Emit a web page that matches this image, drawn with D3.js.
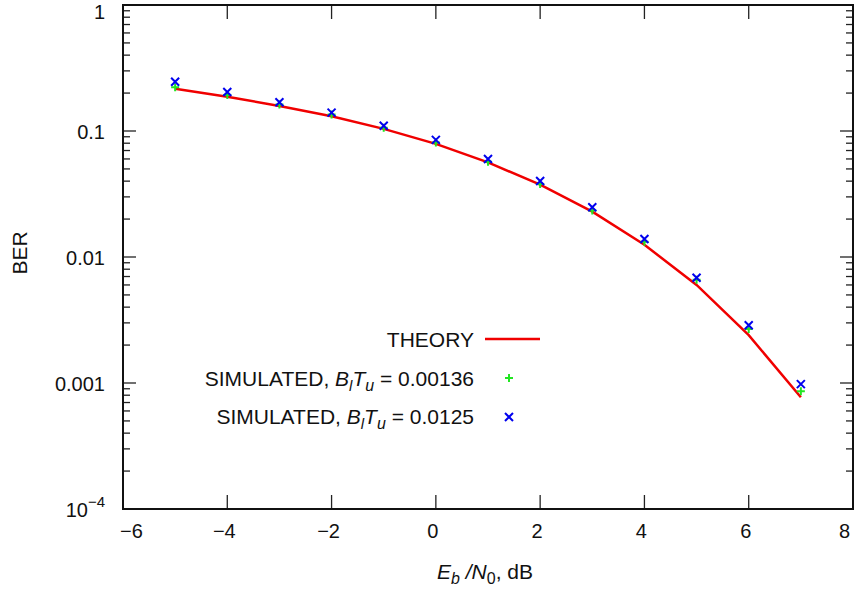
<!DOCTYPE html>
<html>
<head>
<meta charset="utf-8">
<script src="https://cdn.jsdelivr.net/npm/d3@7"></script>
<style>
  body { margin: 0; background: #fff; }
  svg text { font-family: "Liberation Sans", Arial, Helvetica, sans-serif; fill: #111; }
</style>
</head>
<body>
<div id="chart"></div>
<script>
// Eb/N0 values (dB)
var ebno = [-5, -4, -3, -2, -1, 0, 1, 2, 3, 4, 5, 6, 7];
// theory curve
var theory = [0.216, 0.187, 0.158, 0.131, 0.104, 0.0790, 0.0563, 0.0375, 0.0229, 0.0125, 0.0060, 0.00240, 0.00077];
// simulated, BlTu = 0.00136
var sim1 = [0.222, 0.193, 0.162, 0.135, 0.106, 0.081, 0.057, 0.038, 0.0234, 0.0132, 0.0066, 0.00268, 0.00086];
// simulated, BlTu = 0.0125
var sim2 = [0.246, 0.204, 0.169, 0.140, 0.110, 0.085, 0.060, 0.0401, 0.0248, 0.0139, 0.00685, 0.00287, 0.00098];

var xTicks = [-6, -4, -2, 0, 2, 4, 6, 8];
var yTicks = [1e-4, 1e-3, 1e-2, 0.1, 1];
var yTickLabels = ["10^-4", "0.001", "0.01", "0.1", "1"];

var W = 854, H = 590;
var margin = { top: 5, right: 1, bottom: 81, left: 123 };

var svg = d3.select("#chart")
    .append("svg")
    .attr("width", W)
    .attr("height", H);

var x = d3.scaleLinear()
    .domain([-6, 8])
    .range([margin.left, W - margin.right]);
var y = d3.scaleLog()
    .domain([1e-4, 1])
    .range([H - margin.bottom, margin.top]);

var x0 = x.range()[0], x1 = x.range()[1];
var yb = y.range()[0], yt = y.range()[1];

// minor y ticks
var minor = [];
[1e-4, 1e-3, 1e-2, 0.1].forEach(function (d) {
    for (var k = 2; k <= 9; k++) minor.push(d * k);
});

var ticks = svg.append("g").attr("stroke", "#222").attr("stroke-width", 1.3);
minor.forEach(function (v) {
    ticks.append("line").attr("x1", x0).attr("x2", x0 + 7).attr("y1", y(v)).attr("y2", y(v));
    ticks.append("line").attr("x1", x1).attr("x2", x1 - 7).attr("y1", y(v)).attr("y2", y(v));
});
yTicks.forEach(function (v) {
    ticks.append("line").attr("x1", x0).attr("x2", x0 + 13).attr("y1", y(v)).attr("y2", y(v));
    ticks.append("line").attr("x1", x1).attr("x2", x1 - 13).attr("y1", y(v)).attr("y2", y(v));
});
xTicks.forEach(function (v) {
    ticks.append("line").attr("x1", x(v)).attr("x2", x(v)).attr("y1", yb).attr("y2", yb - 14);
    ticks.append("line").attr("x1", x(v)).attr("x2", x(v)).attr("y1", yt).attr("y2", yt + 14);
});

// frame
svg.append("rect")
    .attr("x", x0).attr("y", yt)
    .attr("width", x1 - x0).attr("height", yb - yt)
    .attr("fill", "none")
    .attr("stroke", "#111")
    .attr("stroke-width", 2);

// x tick labels (first and last kept inside the page)
svg.append("g").selectAll("text")
    .data(xTicks)
    .enter().append("text")
    .attr("x", function (d, i) {
        if (i === 0) return x(d) - 3;
        if (i === xTicks.length - 1) return 850;
        return x(d) - 3;
    })
    .attr("y", 538)
    .attr("text-anchor", function (d, i) {
        if (i === 0) return "start";
        if (i === xTicks.length - 1) return "end";
        return "middle";
    })
    .attr("font-size", 20)
    .text(function (d) { return d < 0 ? "\u2212" + Math.abs(d) : d; });

// y tick labels
var yl = svg.append("g");
yTicks.forEach(function (v, i) {
    var lab = yTickLabels[i];
    var ty = Math.max(y(v) + 7.5, 19);
    var t = yl.append("text")
        .attr("x", 105)
        .attr("y", ty)
        .attr("text-anchor", "end")
        .attr("font-size", 20);
    if (lab.indexOf("^") >= 0) {
        var parts = lab.split("^");
        t.append("tspan").text(parts[0]);
        t.append("tspan").attr("dy", -10).attr("font-size", 15).text(parts[1].replace("-", "\u2212"));
    } else {
        t.text(lab);
    }
});

// axis titles
svg.append("text")
    .attr("transform", "translate(27,253) rotate(-90)")
    .attr("text-anchor", "middle")
    .attr("font-size", 21)
    .text("BER");

var xt = svg.append("text")
    .attr("x", 485)
    .attr("y", 579)
    .attr("text-anchor", "middle")
    .attr("font-size", 21);
xt.append("tspan").attr("font-style", "italic").text("E");
xt.append("tspan").attr("font-style", "italic").attr("font-size", 16).attr("dy", 5).text("b");
xt.append("tspan").attr("font-style", "italic").attr("dy", -5).text(" /N");
xt.append("tspan").attr("font-size", 16).attr("dy", 5).text("0");
xt.append("tspan").attr("dy", -5).text(", dB");

// theory line
var line = d3.line()
    .x(function (d, i) { return x(ebno[i]); })
    .y(function (d) { return y(d); });

svg.append("path")
    .datum(theory)
    .attr("d", line)
    .attr("fill", "none")
    .attr("stroke", "#f00000")
    .attr("stroke-width", 2.5);

// markers
function plus(g, cx, cy) {
    g.append("path")
        .attr("d", "M" + (cx - 4) + "," + cy + "H" + (cx + 4) + "M" + cx + "," + (cy - 4) + "V" + (cy + 4))
        .attr("stroke", "#22e622").attr("stroke-width", 2).attr("fill", "none");
}
function cross(g, cx, cy) {
    g.append("path")
        .attr("d", "M" + (cx - 4) + "," + (cy - 4) + "L" + (cx + 4) + "," + (cy + 4) +
            "M" + (cx - 4) + "," + (cy + 4) + "L" + (cx + 4) + "," + (cy - 4))
        .attr("stroke", "#0000ee").attr("stroke-width", 2).attr("fill", "none");
}
var g1 = svg.append("g");
sim1.forEach(function (v, i) { plus(g1, x(ebno[i]), y(v)); });
var g2 = svg.append("g");
sim2.forEach(function (v, i) { cross(g2, x(ebno[i]), y(v)); });

// legend
var lg = svg.append("g");
function simLabel(t, val) {
    t.append("tspan").text("SIMULATED, ");
    t.append("tspan").attr("font-style", "italic").text("B");
    t.append("tspan").attr("font-style", "italic").attr("font-size", 15).attr("dy", 5).text("l");
    t.append("tspan").attr("font-style", "italic").attr("dy", -5).text("T");
    t.append("tspan").attr("font-style", "italic").attr("font-size", 16).attr("dy", 5).text("u");
    t.append("tspan").attr("dy", -5).text(" = " + val);
}
lg.append("text").attr("x", 474).attr("y", 347).attr("text-anchor", "end")
    .attr("font-size", 21).text("THEORY");
lg.append("line").attr("x1", 485).attr("x2", 540).attr("y1", 339).attr("y2", 339)
    .attr("stroke", "#f00000").attr("stroke-width", 2.5);
simLabel(lg.append("text").attr("x", 474).attr("y", 386).attr("text-anchor", "end").attr("font-size", 21), "0.00136");
plus(lg, 509, 378);
simLabel(lg.append("text").attr("x", 474).attr("y", 424).attr("text-anchor", "end").attr("font-size", 21), "0.0125");
cross(lg, 509, 417);
</script>
</body>
</html>
